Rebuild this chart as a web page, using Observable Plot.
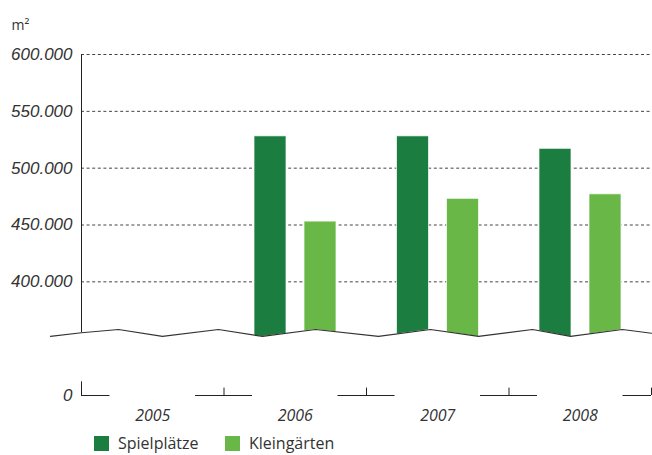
<!DOCTYPE html>
<html><head><meta charset="utf-8">
<script src="https://cdn.jsdelivr.net/npm/d3@7"></script>
<script src="https://cdn.jsdelivr.net/npm/@observablehq/plot@0.6"></script>
<style>
body{margin:0;background:#fff;}
#chart svg{display:block;}
#legend{position:relative;height:21px;font-family:"Open Sans",sans-serif;font-size:16px;color:#333;}
.item{position:absolute;top:3px;display:flex;align-items:center;line-height:17px;}
.sw{width:15px;height:15px;margin-right:9px;}
</style></head><body>
<div id="chart"></div>
<div id="legend"></div>
<script>
const years = ["2005", "2006", "2007", "2008"];
const series = ["Spielplätze", "Kleingärten"];
const spielplaetze = [null, 528000, 528000, 517000];
const kleingaerten = [null, 453000, 473000, 477000];
const colors = ["#1b7d40", "#69b847"];
const gridTicks = [400000, 450000, 500000, 550000, 600000];
const zeroPos = 300000;           // position of the "0" baseline on the broken axis
const barBase = 350000;           // bars start below the break line
const yTicks = [zeroPos, ...gridTicks];
// break (zigzag) line, in x-band units and y-values
const breakX = [-0.218, 0, 0.26, 0.568, 0.961, 1.27, 1.642, 2.084, 2.449, 2.786, 3.165, 3.432, 3.796, 4.0];
const breakY = [352000, 355200, 358000, 352000, 358000, 352000, 358000, 352000, 358000, 352000, 358000, 352000, 358000, 354800];
// bottom axis segments (x-band units)
const segX1 = [0, 0.8, 1.8, 2.8, 3.8];
const segX2 = [0.2, 1.2, 2.2, 3.2, 4.0];
const tickX = [1, 2, 3, 4];

const bars1 = years.map((y, i) => ({year: y, i, value: spielplaetze[i]})).filter(d => d.value != null);
const bars2 = years.map((y, i) => ({year: y, i, value: kleingaerten[i]})).filter(d => d.value != null);
const breakPts = breakX.map((x, i) => ({x, y: breakY[i]}));
const segs = segX1.map((x1, i) => ({x1, x2: segX2[i]}));
const fmt = d => d === zeroPos ? "0" : d3.format(",")(d).replace(/,/g, ".");

const plot = Plot.plot({
  width: 652,
  height: 432,
  marginLeft: 81,
  marginRight: 1,
  marginTop: 54,
  marginBottom: 37,
  style: {fontFamily: "'Liberation Sans', Arial, sans-serif", fontSize: "17px", fontStyle: "italic", background: "white"},
  x: {type: "linear", domain: [0, 4], axis: null},
  y: {type: "linear", domain: [zeroPos, 600000]},
  marks: [
    Plot.ruleY(gridTicks, {stroke: "#444", strokeWidth: 1, strokeDasharray: "3,2.6"}),
    Plot.rectY(bars1, {x1: d => d.i, x2: d => d.i + 1, y1: barBase, y2: "value", fill: colors[0],
      insetLeft: 30.5, insetRight: 80, stroke: "#fff", strokeOpacity: 0.7, strokeWidth: 1}),
    Plot.rectY(bars2, {x1: d => d.i, x2: d => d.i + 1, y1: barBase, y2: "value", fill: colors[1],
      insetLeft: 80.5, insetRight: 30, stroke: "#fff", strokeOpacity: 0.7, strokeWidth: 1}),
    Plot.areaY(breakPts, {x: "x", y1: 330000, y2: "y", fill: "white"}),
    Plot.line(breakPts, {x: "x", y: "y", stroke: "#333", strokeWidth: 1.1}),
    Plot.ruleX([0], {y1: 355200, y2: 600000, stroke: "#222", strokeWidth: 1}),
    Plot.ruleX([0], {y1: zeroPos, y2: 312000, stroke: "#222", strokeWidth: 1}),
    Plot.ruleX(tickX, {y1: zeroPos, y2: 306500, stroke: "#222", strokeWidth: 1}),
    Plot.ruleY(segs, {x1: "x1", x2: "x2", y: () => zeroPos, stroke: "#222", strokeWidth: 1}),
    Plot.axisY(yTicks, {tickSize: 0, tickPadding: 9, tickFormat: fmt, fontSize: 17, fill: "#333", label: null}),
    Plot.text(years, {x: (d, i) => i + 0.5, frameAnchor: "bottom", dy: 25, fontStyle: "italic", fontSize: 16,
      fill: "#333", fontFamily: "'Open Sans', sans-serif"}),
    Plot.text(["m²"], {frameAnchor: "top-left", dx: -70, dy: -25, textAnchor: "start", lineAnchor: "bottom",
      fontSize: 14, fontStyle: "normal", fill: "#333", fontFamily: "'Open Sans', sans-serif"})
  ]
});
document.getElementById("chart").append(plot);

const legend = document.getElementById("legend");
const lefts = [94, 225];
series.forEach((s, i) => {
  const it = document.createElement("div");
  it.className = "item";
  it.style.left = lefts[i] + "px";
  it.innerHTML = `<div class="sw" style="background:${colors[i]}"></div><span>${s}</span>`;
  legend.append(it);
});
</script>
</body></html>
